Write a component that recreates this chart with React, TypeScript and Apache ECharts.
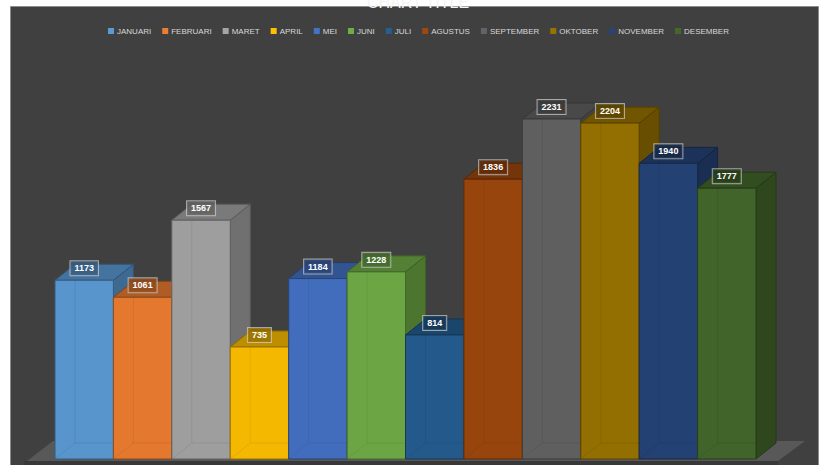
import React, { useEffect, useRef } from 'react';
import * as echarts from 'echarts';

const chartTitle = 'CHART TITLE';
const months = ['JANUARI', 'FEBRUARI', 'MARET', 'APRIL', 'MEI', 'JUNI', 'JULI', 'AGUSTUS', 'SEPTEMBER', 'OKTOBER', 'NOVEMBER', 'DESEMBER'];
const values = [1173, 1061, 1567, 735, 1184, 1228, 814, 1836, 2231, 2204, 1940, 1777];
const colors = ['#5B9BD5', '#ED7D31', '#A5A5A5', '#FFC000', '#4472C4', '#70AD47', '#255E91', '#9E480E', '#636363', '#997300', '#264478', '#43682B'];

const DX = 20;
const DY = -16;
const FONT = '"Liberation Sans", Arial, sans-serif';

function shade(hex: string, f: number, a = 1): string {
  const n = parseInt(hex.slice(1), 16);
  const r = Math.round(((n >> 16) & 255) * f);
  const g = Math.round(((n >> 8) & 255) * f);
  const b = Math.round((n & 255) * f);
  return `rgba(${r},${g},${b},${a})`;
}

export default function App() {
  const ref = useRef<HTMLDivElement>(null);
  useEffect(() => {
    if (!ref.current) return;
    const chart = echarts.init(ref.current, null, { renderer: 'svg' });
    const series = months.map((m, i) => ({
      type: 'custom',
      name: m,
      itemStyle: { color: colors[i] },
      data: [[i, values[i]]],
      encode: { x: 0, y: 1 },
      renderItem: (params: any, api: any) => {
        const idx = api.value(0);
        const val = api.value(1);
        const top = api.coord([idx, val]);
        const base = api.coord([idx, 0]);
        const w = api.size([1, 0])[0];
        const x0 = top[0] - w / 2;
        const x1 = top[0] + w / 2;
        const yT = top[1];
        const yB = base[1];
        const c = colors[i];
        return {
          type: 'group',
          children: [
            {
              type: 'polygon',
              shape: { points: [[x1, yB], [x1 + DX, yB + DY], [x1 + DX, yT + DY], [x1, yT]] },
              style: { fill: shade(c, 0.68), stroke: shade(c, 0.55), lineWidth: 1 },
            },
            {
              type: 'polygon',
              shape: { points: [[x0, yT], [x0 + DX, yT + DY], [x1 + DX, yT + DY], [x1, yT]] },
              style: { fill: shade(c, 0.74), stroke: shade(c, 0.55), lineWidth: 1 },
            },
            {
              type: 'rect',
              shape: { x: x0, y: yT, width: w, height: yB - yT },
              style: { fill: shade(c, 0.96), stroke: shade(c, 0.6), lineWidth: 1 },
            },
            {
              type: 'polyline',
              shape: { points: [[x0 + DX, yT], [x0 + DX, yB + DY], [x1, yB + DY]] },
              style: { fill: 'none', stroke: 'rgba(0,0,0,0.07)', lineWidth: 1 },
            },
            {
              type: 'line',
              shape: { x1: x0, y1: yB, x2: x0 + DX, y2: yB + DY },
              style: { stroke: 'rgba(0,0,0,0.07)', lineWidth: 1 },
            },
            {
              type: 'text',
              z2: 100,
              x: top[0],
              y: yT - 12,
              style: {
                text: String(val),
                fill: '#ffffff',
                font: `bold 9px ${FONT}`,
                align: 'center',
                verticalAlign: 'middle',
                backgroundColor: shade(c, 0.6, 0.85),
                borderColor: 'rgba(210,210,210,0.7)',
                borderWidth: 1,
                padding: [3, 4, 2, 4],
              },
            },
          ],
        };
      },
    }));

    chart.setOption({
      animation: false,
      backgroundColor: 'transparent',
      grid: { left: 55, right: 68, top: 78, bottom: 6 },
      xAxis: { type: 'category', data: months, show: false, boundaryGap: true },
      yAxis: { type: 'value', min: 0, max: 2500, show: false },
      legend: {
        data: months,
        left: 108,
        top: 27,
        width: 700,
        padding: 0,
        itemWidth: 6,
        itemHeight: 6,
        itemGap: 11,
        icon: 'rect',
        textStyle: { color: '#d9d9d9', fontSize: 8, fontFamily: FONT, padding: [0, 0, 0, -2] },
      },
      graphic: [
        {
          type: 'rect',
          z: -10,
          shape: { x: 10.5, y: 6.5, width: 808, height: 470 },
          style: { fill: '#404040', stroke: '#8c8c8c', lineWidth: 1 },
        },
        {
          type: 'polygon',
          z: -5,
          shape: { points: [[27, 461], [778, 461], [805, 441], [53, 441]] },
          style: { fill: '#585858' },
        },
        {
          type: 'rect',
          z: -5,
          shape: { x: 24, y: 461, width: 754, height: 5 },
          style: { fill: '#383838' },
        },
        {
          type: 'text',
          z: -4,
          x: 418,
          y: 10,
          style: {
            text: chartTitle,
            fill: '#f4f4f4',
            font: `16px "Liberation Sans", Arial, sans-serif`,
            align: 'center',
            verticalAlign: 'bottom',
          },
        },
      ],
      series,
    });
    return () => chart.dispose();
  }, []);
  return (
    <div
      ref={ref}
      style={{ position: 'absolute', left: 0, top: 0, width: 824, height: 465, background: '#ffffff' }}
    />
  );
}
